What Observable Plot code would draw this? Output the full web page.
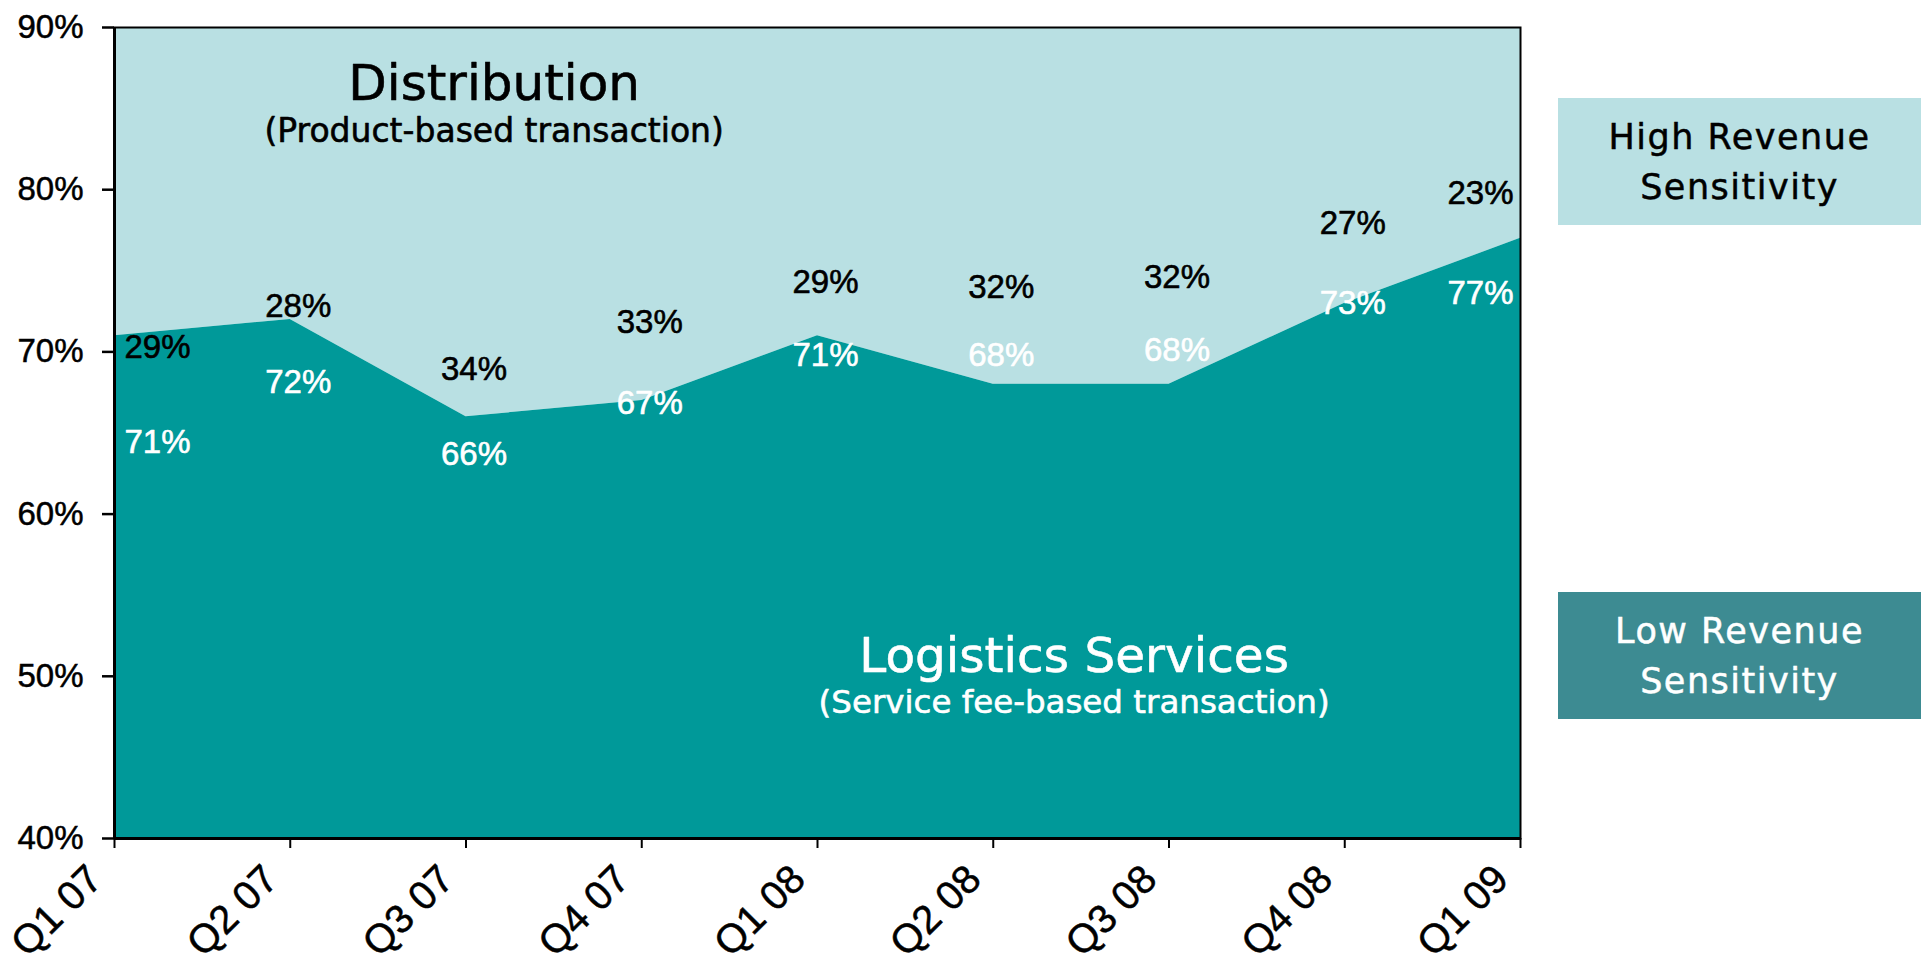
<!DOCTYPE html>
<html>
<head>
<meta charset="utf-8">
<script src="https://cdn.jsdelivr.net/npm/d3@7"></script>
<script src="https://cdn.jsdelivr.net/npm/@observablehq/plot@0.6"></script>
<style>
  html, body { margin: 0; padding: 0; background: #fff; overflow: hidden; }
  #wrap { position: relative; width: 1921px; height: 969px; }
  .box { position: absolute; left: 1558px; width: 363px; height: 127px; display: flex; align-items: center; justify-content: center; text-align: center; font-family: "DejaVu Sans", sans-serif; font-size: 35px; letter-spacing: 1.5px; line-height: 50px; }
  .box.dark-text { -webkit-text-stroke: 0.5px #000; }
  .box.light-text { -webkit-text-stroke: 0.5px #fff; }
  g[aria-label="x-axis tick label"], g[aria-label="y-axis tick label"] { stroke: #000; stroke-width: 0.5px; }
</style>
</head>
<body>
<div id="wrap"></div>
<script>
// ---- data ----
const quarters = ["Q1 07", "Q2 07", "Q3 07", "Q4 07", "Q1 08", "Q2 08", "Q3 08", "Q4 08", "Q1 09"];
const logistics = [71, 72, 66, 67, 71, 68, 68, 73, 77];      // Logistics Services share (%)
const distribution = [29, 28, 34, 33, 29, 32, 32, 27, 23];   // Distribution share (%)
const yTicks = [40, 50, 60, 70, 80, 90];
// label anchor heights (in % units, as placed in the original)
const distLabelY = [70.3, 72.8, 68.9, 71.8, 74.3, 74.0, 74.6, 77.9, 79.8];
const logLabelY = [64.4, 68.1, 63.7, 66.8, 69.8, 69.8, 70.1, 73.0, 73.6];
const notes = [
  {x: 2.16, y: 86.5, text: "Distribution", size: 50, fill: "black"},
  {x: 2.16, y: 83.6, text: "(Product-based transaction)", size: 33, fill: "black"},
  {x: 5.46, y: 51.25, text: "Logistics Services", size: 48.5, fill: "white"},
  {x: 5.46, y: 48.4, text: "(Service fee-based transaction)", size: 32.5, fill: "white"}
];
const sideBoxes = [
  {text: "High Revenue<br>Sensitivity", top: 98, bg: "#b9e0e3", color: "#000", cls: "dark-text"},
  {text: "Low Revenue<br>Sensitivity", top: 592, bg: "#3d8b92", color: "#fff", cls: "light-text"}
];

const DARK = "#009999";
const LIGHT = "#b9e0e3";
const FONT = "DejaVu Sans, sans-serif";
const LABELFONT = "Liberation Sans, Arial, sans-serif";

const rows = quarters.map((q, i) => ({
  i, q, log: logistics[i], dist: distribution[i], dY: distLabelY[i], lY: logLabelY[i]
}));

const labelOpts = (key, yKey, fill) => ({
  x: "i", y: yKey, text: d => d[key] + "%", fill, stroke: fill, strokeWidth: 0.6,
  fontSize: 33, fontFamily: LABELFONT
});
const labelMarks = (key, yKey, fill) => [
  Plot.text(rows, {...labelOpts(key, yKey, fill), filter: d => d.i === 0, textAnchor: "start", dx: 10}),
  Plot.text(rows, {...labelOpts(key, yKey, fill), filter: d => d.i > 0 && d.i < rows.length - 1, dx: 8}),
  Plot.text(rows, {...labelOpts(key, yKey, fill), filter: d => d.i === rows.length - 1, textAnchor: "end", dx: -7})
];

const chart = Plot.plot({
  width: 1921,
  height: 969,
  marginLeft: 114,
  marginRight: 401,
  marginTop: 27,
  marginBottom: 131,
  style: {fontFamily: "Liberation Sans, Arial, sans-serif", fontSize: "33px", color: "black", background: "transparent", overflow: "visible"},
  x: {domain: [0, quarters.length - 1], axis: null},
  y: {domain: [40, 90], axis: null},
  marks: [
    Plot.areaY(rows, {x: "i", y1: d => d.log, y2: d => d.log + d.dist, fill: LIGHT, clip: true}),
    Plot.areaY(rows, {x: "i", y1: 40, y2: "log", fill: DARK}),
    Plot.frame({stroke: "black", strokeWidth: 2}),
    Plot.ruleX([0], {stroke: "black", strokeWidth: 3}),
    Plot.ruleY([40], {stroke: "black", strokeWidth: 3}),
    Plot.axisY({ticks: yTicks, tickFormat: d => d + "%", tickSize: 12, tickPadding: 19, strokeWidth: 2.5, fontSize: 33}),
    Plot.axisX({ticks: d3.range(quarters.length), tickFormat: () => "", tickSize: 10, strokeWidth: 2}),
    Plot.axisX({ticks: d3.range(quarters.length), tickFormat: i => quarters[i], tickRotate: -45, tickSize: 0, tickPadding: 34, dx: -19, fontSize: 40}),
    ...labelMarks("dist", "dY", "black"),
    ...labelMarks("log", "lY", "white"),
    Plot.text(notes, {x: "x", y: "y", text: "text", fill: "fill", stroke: "fill", strokeWidth: 0.6, fontSize: d => d.size, fontFamily: FONT})
  ]
});

const wrap = document.getElementById("wrap");
wrap.appendChild(chart);
for (const b of sideBoxes) {
  const div = document.createElement("div");
  div.className = "box " + b.cls;
  div.style.top = b.top + "px";
  div.style.background = b.bg;
  div.style.color = b.color;
  div.innerHTML = b.text;
  wrap.appendChild(div);
}
</script>
</body>
</html>
